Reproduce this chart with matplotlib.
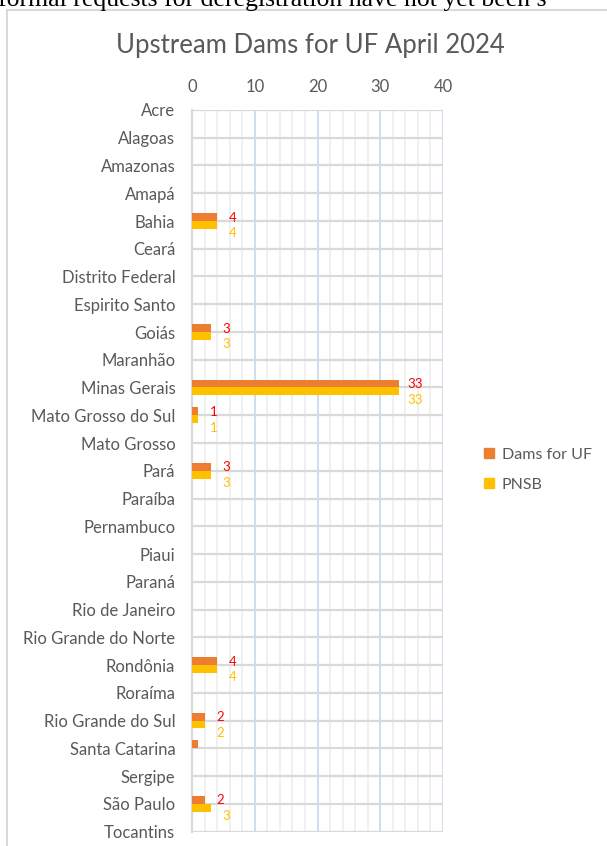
import numpy as np
import matplotlib.pyplot as plt
from matplotlib.lines import Line2D
from matplotlib.patches import Patch

# Dams per state (UF), April 2024
states = ['Acre', 'Alagoas', 'Amazonas', 'Amapá', 'Bahia', 'Ceará', 'Distrito Federal',
          'Espirito Santo', 'Goiás', 'Maranhão', 'Minas Gerais', 'Mato Grosso do Sul',
          'Mato Grosso', 'Pará', 'Paraíba', 'Pernambuco', 'Piaui', 'Paraná', 'Rio de Janeiro',
          'Rio Grande do Norte', 'Rondônia', 'Roraíma', 'Rio Grande do Sul', 'Santa Catarina',
          'Sergipe', 'São Paulo', 'Tocantins']
dams_uf = [0, 0, 0, 0, 4, 0, 0, 0, 3, 0, 33, 1, 0, 3, 0, 0, 0, 0, 0, 0, 4, 0, 2, 1, 0, 2, 0]
pnsb = [0, 0, 0, 0, 4, 0, 0, 0, 3, 0, 33, 1, 0, 3, 0, 0, 0, 0, 0, 0, 4, 0, 2, 0, 0, 3, 0]
# Santa Catarina's orange bar carries no data label in the original
dams_labelled = [s != 'Santa Catarina' for s in states]
x_ticks = [0, 10, 20, 30, 40]

ORANGE = '#ED7D31'
YELLOW = '#FFC000'
GREY_TXT = '#595959'
FONT = 'Lato'

W, H = 607, 846
fig = plt.figure(figsize=(W / 100, H / 100), dpi=100)
plt.rcParams['font.family'] = [FONT, 'DejaVu Sans']

# document text cut off above the chart
fig.text(-2 / W, 1 - 6 / H, 'formal requests for deregistration have not yet been s',
         family='Liberation Serif', fontsize=18.5, ha='left', va='baseline', color='black')

# chart frame (only top and left edges are visible)
fig.add_artist(Line2D([7 / W, 1], [1 - 10 / H] * 2, color='#D9D9D9', lw=1.5))
fig.add_artist(Line2D([7 / W] * 2, [0, 1 - 10 / H], color='#D9D9D9', lw=1.5))

left, right, top, bottom = 192, 443, 110, 831.5
ax = fig.add_axes([left / W, (H - bottom) / H, (right - left) / W, (bottom - top) / H])

y = np.arange(len(states))
h = 0.28
ax.barh(y - h / 2, dams_uf, height=h, color=ORANGE, linewidth=0, label='Dams for UF', zorder=3)
ax.barh(y + h / 2, pnsb, height=h, color=YELLOW, linewidth=0, label='PNSB', zorder=3)

for i, (d, p) in enumerate(zip(dams_uf, pnsb)):
    if d and dams_labelled[i]:
        ax.text(d + 2.5, i - 0.12, str(d), color='#FF0000', fontsize=9.5, ha='center', va='center', zorder=4)
    if p:
        ax.text(p + 2.5, i + 0.45, str(p), color=YELLOW, fontsize=9.5, ha='center', va='center', zorder=4)

ax.set_xlim(0, 40)
ax.set_ylim(len(states) - 1, 0)
ax.set_xticks(x_ticks)
ax.set_xticks(np.arange(0, 41, 2), minor=True)
ax.set_yticks(y)
ax.set_yticklabels(states)
ax.xaxis.tick_top()
ax.tick_params(axis='x', which='both', length=0, pad=11, labelsize=12, labelcolor=GREY_TXT)
ax.tick_params(axis='y', length=0, pad=12, labelsize=12, labelcolor=GREY_TXT)

ax.grid(axis='x', which='minor', color='#EDEDED', lw=1.2, zorder=0)
ax.grid(axis='x', which='major', color='#C9DAEE', lw=1.3, zorder=1)
ax.grid(axis='y', color='#D9D9D9', lw=1.6, zorder=2)
for s in ['top', 'right', 'bottom']:
    ax.spines[s].set_visible(False)
ax.spines['left'].set_color('#D9D9D9')
ax.spines['left'].set_linewidth(1.6)
ax.spines['left'].set_zorder(2)

fig.text(310 / W, 1 - 45 / H, 'Upstream Dams for UF April 2024', fontsize=18.5,
         color=GREY_TXT, ha='center', va='center')

handles = [Patch(color=ORANGE, label='Dams for UF'), Patch(color=YELLOW, label='PNSB')]
fig.legend(handles=handles, loc='center left', bbox_to_anchor=(470 / W, 1 - 470 / H),
           frameon=False, fontsize=11.5, labelcolor=GREY_TXT, handlelength=0.6, handleheight=0.6,
           handletextpad=0.5, labelspacing=1.0)

fig.savefig('out.png', dpi=100)
